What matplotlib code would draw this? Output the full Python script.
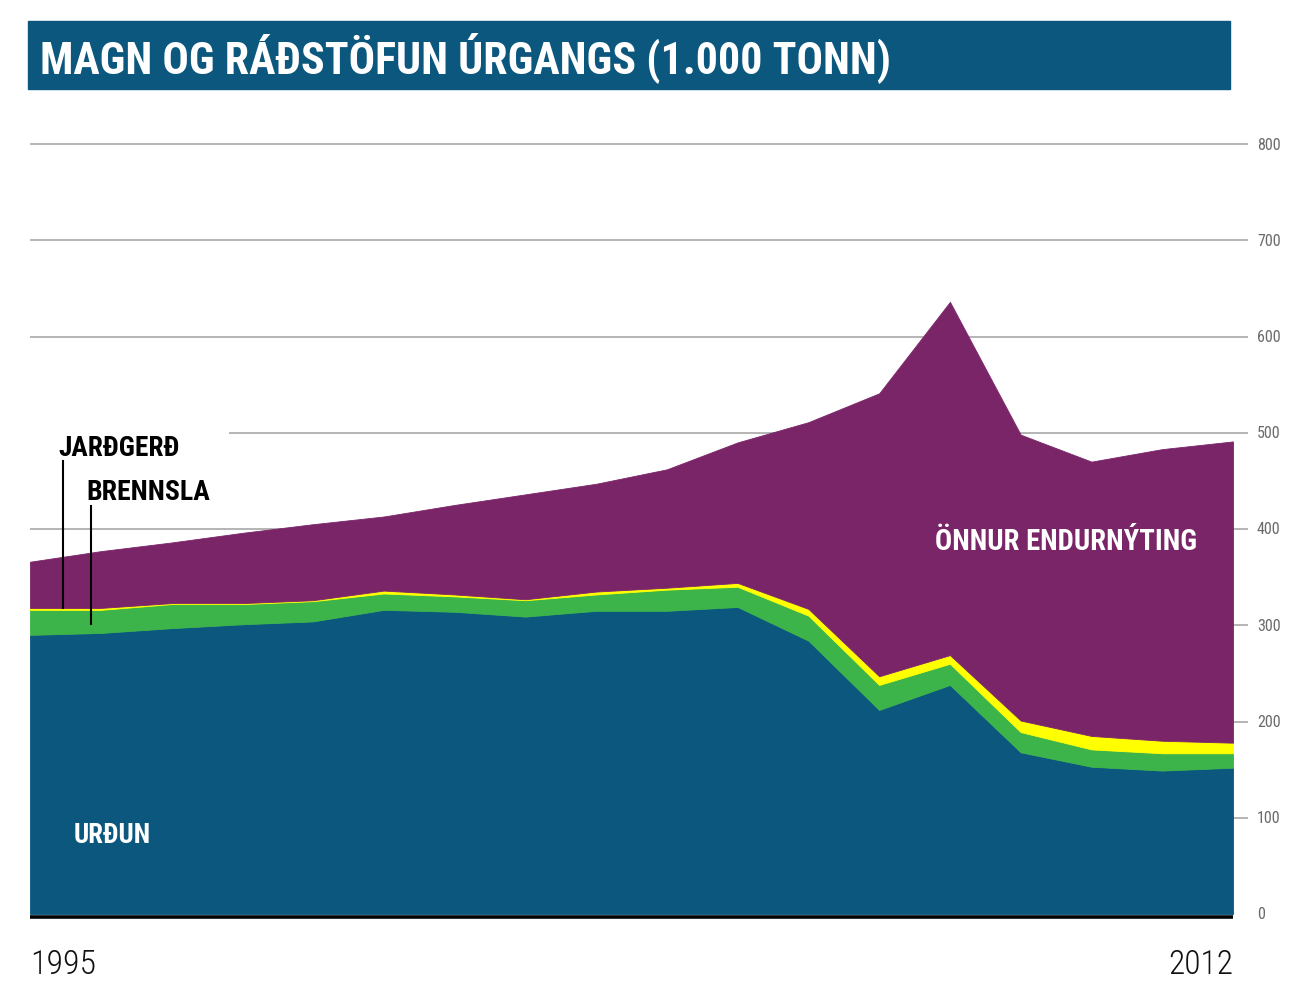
import matplotlib
matplotlib.use("Agg")
import matplotlib.pyplot as plt
from matplotlib import font_manager
import numpy as np

# ár og gildi (1.000 tonn), lesið af myndinni
years = np.arange(1995, 2013)
urdun = [290, 292, 297, 301, 304, 316, 314, 309, 315, 315, 319, 284, 212, 238, 168, 153, 149, 152]
brennsla = [26, 24, 25, 21, 21, 17, 16, 17, 17, 22, 21, 26, 26, 22, 21, 18, 18, 15]
jardgerd = [2, 2, 1, 1, 1, 3, 2, 1, 3, 2, 4, 7, 9, 9, 12, 14, 13, 11]
onnur = [48, 59, 63, 73, 79, 77, 93, 109, 112, 123, 146, 194, 294, 367, 297, 285, 303, 313]

yticks = [0, 100, 200, 300, 400, 500, 600, 700, 800]
title = "MAGN OG RÁÐSTÖFUN ÚRGANGS (1.000 TONN)"

BLUE = "#0b577e"
GREEN = "#3cb44a"
YELLOW = "#ffff00"
PURPLE = "#7b2569"

# mjótt letur ef til er, annars Roboto
ttf = font_manager.fontManager.ttflist
names = {f.name for f in ttf}
stretch = "normal"
family = "Roboto"
for cand in ["Roboto Condensed", "Open Sans Condensed", "Liberation Sans Narrow"]:
    if cand in names:
        family = cand
        break
else:
    if any(f.name == "DejaVu Sans" and f.stretch == "condensed" for f in ttf):
        family, stretch = "DejaVu Sans", "condensed"
FONT = [family, "DejaVu Sans"]

fig = plt.figure(figsize=(12.91, 9.95), dpi=100)
ax = fig.add_axes([30 / 1291, 80 / 995, 1203 / 1291, 770 / 995])

fitted = []  # (texti, breidd í px)


def label(x, y, s, width, **kw):
    t = ax.text(x, y, s, family=FONT, fontstretch=stretch, va="baseline", **kw)
    fitted.append((t, width))
    return t


# gridlínur (fara aðeins út fyrir hægri brún)
x_end = 2012 + 15 / 70.76
for v in yticks[1:]:
    x0 = 1997.81 if v == 500 else 1995
    ax.hlines(v, x0, x_end, color="#b4b4b4", lw=1.4, clip_on=False, zorder=0)
for v in yticks:
    t = ax.text(2012.34, v, str(v), ha="left", va="center", fontsize=10,
                color="#6a6a6a", family=FONT, fontstretch=stretch)
    fitted.append((t, 8 * len(str(v))))

ax.stackplot(years, urdun, brennsla, jardgerd, onnur,
             colors=[BLUE, GREEN, YELLOW, PURPLE], lw=0.6, edgecolor="face", zorder=2)

ax.set_xlim(1995, 2012)
ax.set_ylim(0, 800)
ax.axis("off")

# grunnlína, með mjóu hvítu bili undir fletinum
ax.hlines(-3, 1995, 2012, color="black", lw=2.6, clip_on=False, zorder=3)

label(1995, -61, "1995", 66, ha="left", fontsize=24, color="#111111", fontweight="light")
label(2012, -61, "2012", 65, ha="right", fontsize=24, color="#111111", fontweight="light")

# merkingar
label(1995.40, 477, "JARÐGERÐ", 121, color="black", fontsize=20, fontweight="bold")
label(1995.79, 431, "BRENNSLA", 124, color="black", fontsize=20, fontweight="bold")
label(1995.61, 75, "URÐUN", 77, color="white", fontsize=20, fontweight="bold")
label(2007.79, 379, "ÖNNUR ENDURNÝTING", 262, color="white", fontsize=20, fontweight="bold")

top_j = urdun[0] + brennsla[0] + jardgerd[0]
ax.plot([1995.466, 1995.466], [471, top_j], color="black", lw=1.5, zorder=4)
ax.plot([1995.862, 1995.862], [424, 301], color="black", lw=1.5, zorder=4)

# titill
fig.patches.append(plt.Rectangle((28 / 1291, 1 - 90 / 995), 1202 / 1291, 68 / 995,
                                 transform=fig.transFigure, color=BLUE, zorder=0))
tt = fig.text(40 / 1291, 1 - 73 / 995, title, color="white", fontsize=30, fontweight="bold",
              family=FONT, fontstretch=stretch, va="baseline", ha="left")
fitted.append((tt, 850))

# stilla leturstærð svo breidd passi, en ekki stærra en hæðin leyfir
fig.canvas.draw()
r = fig.canvas.get_renderer()
for t, w in fitted:
    cur = t.get_window_extent(r).width
    fs = t.get_fontsize() * w / cur
    t.set_fontsize(min(fs, t.get_fontsize() * 1.15))

fig.savefig("out.png", dpi=100)
